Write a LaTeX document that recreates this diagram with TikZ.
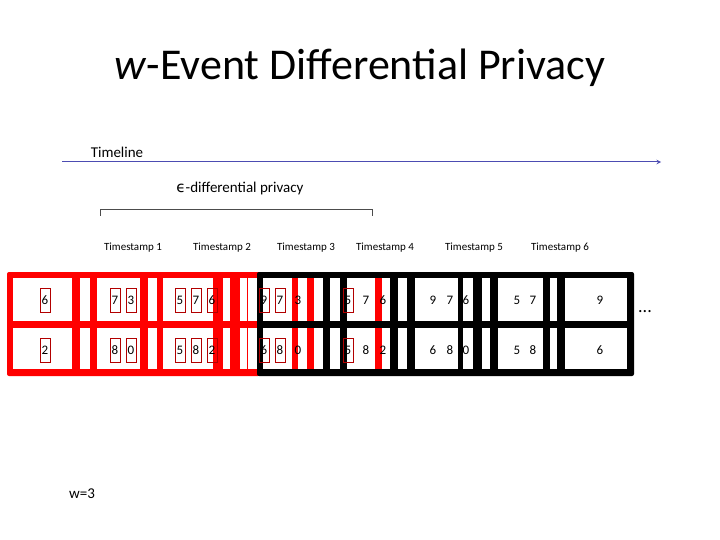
\documentclass[tikz,border=0pt]{standalone}
\usepackage{fontspec}
\setmainfont{Carlito}
\newfontfamily\dv{DejaVu Sans}
\begin{document}
\begin{tikzpicture}[x=1pt,y=-1pt,
  rbar/.style={fill=red,draw=none},
  kbar/.style={fill=black,draw=none},
  num/.style={font=\fontsize{13}{13}\selectfont,inner sep=0pt,text height=9pt,text depth=0pt},
  bnum/.style={num,draw=red!70!black,minimum width=10pt,minimum height=24pt,line width=0.6pt},
  ts/.style={font=\fontsize{11}{11}\selectfont,inner sep=1pt}]
\useasboundingbox (0,0) rectangle (720,540);
\node (title) at (360,68) {\fontsize{44}{44}\selectfont \textit{w}-Event Differential Privacy};
\node[ts,font=\fontsize{15}{15}\selectfont] (tl) at (117,152) {Timeline};
\coordinate (t0) at (62,162); \coordinate (t1) at (661,162);
\draw[color=blue!40!gray,line width=1pt,-stealth] (t0) -- (t1);
\node[font=\fontsize{15}{15}\selectfont] (eps) at (240,189) {{\dv ϵ}-differential privacy};
\coordinate (b0) at (100,216); \coordinate (b1) at (372,216);
\draw[gray!60!black,line width=0.6pt] (b0) -- ++(0,-7) -- (372,209) -- (b1);
\foreach \x/\n in {133/1,222/2,306/3,385/4,474/5,560/6}
  \node[ts] (ts\n) at (\x,248) {Timestamp \n};
% red structure
\fill[rbar,rounded corners=2pt] (7,272) rectangle (260,376);
\fill[white] (13,278) rectangle (72,321);
\fill[white] (13,328) rectangle (72,369);
\foreach \a/\b in {80/90,97/140,148/157,163/213,223/230,240/247}{
  \fill[white] (\a,278) rectangle (\b,321);
  \fill[white] (\a,328) rectangle (\b,369);}
\fill[white] (248,278) rectangle (260,321);
\fill[white] (248,328) rectangle (260,369);
% black structure
\fill[kbar,rounded corners=2pt] (257,272) rectangle (634,376);
\foreach \a/\b in {263/323,330/340,347/390,398/407,415/458,463/473,482/490,498/543,550/557,565/627}{
  \fill[white] (\a,278) rectangle (\b,321);
  \fill[white] (\a,328) rectangle (\b,369);}
\foreach \a/\b in {292/298,307/314,375/382}{
  \fill[rbar] (\a,278) rectangle (\b,321);
  \fill[rbar] (\a,328) rectangle (\b,369);}
% numbers
\node[bnum] (r1a) at (45,300) {6};
\node[bnum] (r2a) at (45,350) {2};
\foreach \x/\u/\v/\b [count=\i] in {
  115/7/8/1,131/3/0/1,180/5/5/1,196/7/8/1,212/6/2/1,264/9/6/1,280/7/8/1,298/3/0/0,
  348/5/5/1,366/7/8/0,383/6/2/0,433/9/6/0,450/7/8/0,466/6/0/0,517/5/5/0,533/7/8/0,600/9/6/0}{
  \ifnum\b=1
    \node[bnum] (p\i) at (\x,300) {\u};
    \node[bnum] (q\i) at (\x,350) {\v};
  \else
    \node[num] (p\i) at (\x,300) {\u};
    \node[num] (q\i) at (\x,350) {\v};
  \fi}
\node[font=\fontsize{18}{18}\selectfont] (dots) at (645,312) {...};
\node[font=\fontsize{15}{15}\selectfont] (w) at (82,494) {w=3};
\end{tikzpicture}
\end{document}
